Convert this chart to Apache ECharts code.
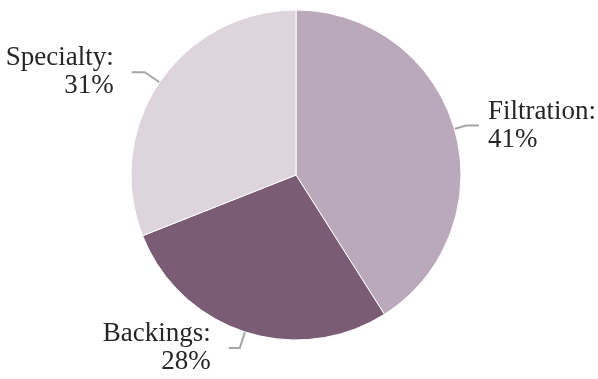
<!DOCTYPE html>
<html>
<head>
<meta charset="utf-8">
<script src="https://cdn.jsdelivr.net/npm/echarts@6/dist/echarts.min.js"></script>
<style>
html,body{margin:0;padding:0;background:#fff;}
#chart{width:598px;height:379px;}
</style>
</head>
<body>
<div id="chart"></div>
<script>
const categories = ["Filtration", "Backings", "Specialty"];
const values = [41, 28, 31];
const colors = ["#b9a9ba", "#7a5c74", "#ddd4dc"];
const lineLen = [12, 17, 18];
const lineLen2 = [13, 11, 13];
const labelGap = [9, 18, 18];

const chart = echarts.init(document.getElementById('chart'), null, {renderer: 'canvas'});
chart.setOption({
  animation: false,
  backgroundColor: '#ffffff',
  series: [{
    type: 'pie',
    center: [296, 175],
    radius: 165,
    startAngle: 90,
    clockwise: true,
    avoidLabelOverlap: false,
    data: categories.map((c, i) => ({
      name: c, value: values[i],
      itemStyle: {color: colors[i]},
      label: {distanceToLabelLine: labelGap[i]},
      labelLine: {length: lineLen[i], length2: lineLen2[i]}
    })),
    itemStyle: {borderColor: '#ffffff', borderWidth: 1},
    label: {
      show: true,
      formatter: p => p.name + ':\n' + p.value + '%',
      fontFamily: 'Liberation Serif',
      fontSize: 27,
      lineHeight: 28,
      color: '#262626',
      overflow: 'none'
    },
    labelLine: {
      show: true,
      lineStyle: {color: '#a6a6a6', width: 2}
    },
    emphasis: {disabled: true}
  }]
});
</script>
</body>
</html>
